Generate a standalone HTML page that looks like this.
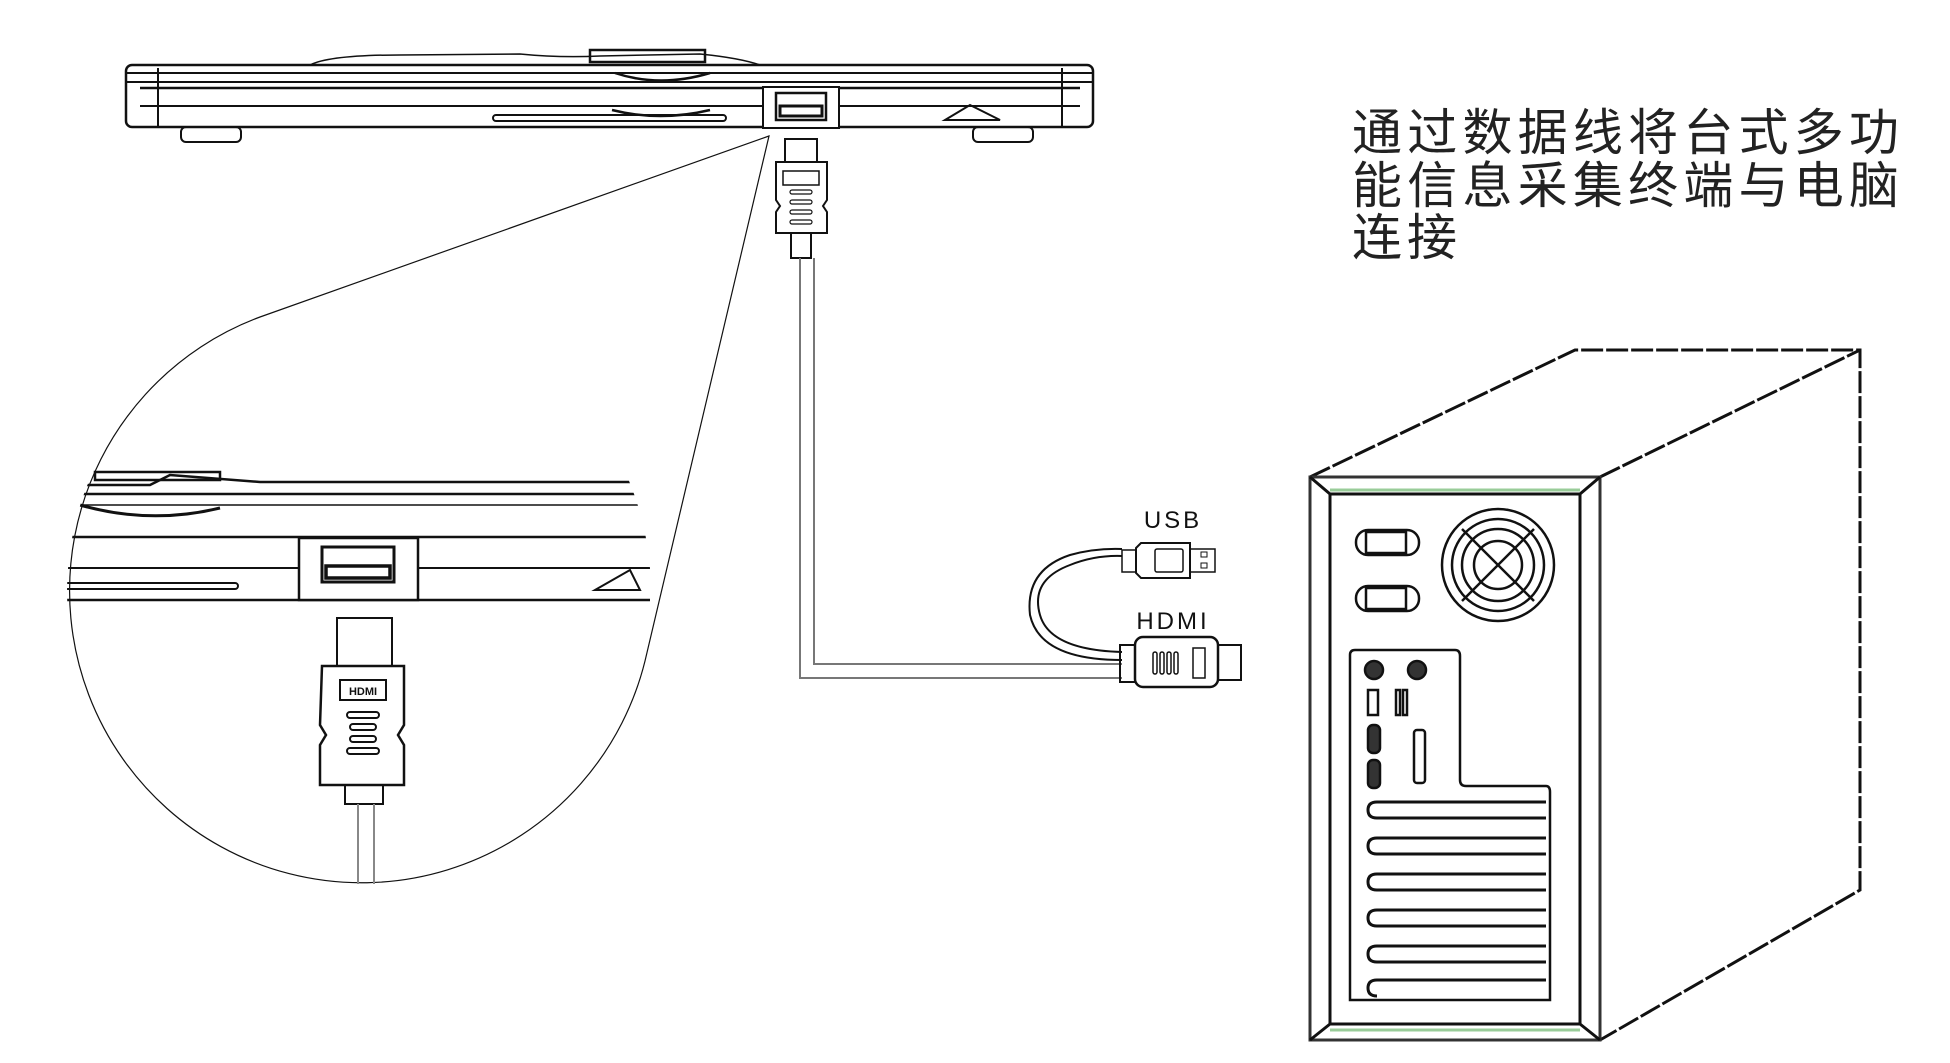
<!DOCTYPE html>
<html><head><meta charset="utf-8"><style>
html,body{margin:0;padding:0;background:#fff;width:1950px;height:1063px;overflow:hidden}
svg{display:block}
.t{font-family:"Liberation Sans","Noto Sans CJK SC",sans-serif;font-size:50px;letter-spacing:5px;fill:#222}
</style></head><body>
<svg width="1950" height="1063" viewBox="0 0 1950 1063" xmlns="http://www.w3.org/2000/svg" fill="none" stroke="#111" stroke-width="2">
<defs><clipPath id="cc"><circle cx="359" cy="592" r="292"/></clipPath></defs>
<path d="M310 65 Q330 55 400 55 L520 54 Q560 58 600 56 L700 54 Q740 58 760 65" stroke-width="1.5"/>
<rect x="590" y="50" width="115" height="12" stroke-width="2.5"/>
<path d="M615 73 Q660 88 710 73 M612 110 Q660 122 710 110" stroke-width="2.5"/>
<rect x="126" y="65" width="967" height="62" rx="6" stroke-width="2.5"/>
<line x1="126" y1="73" x2="1093" y2="73"/><line x1="126" y1="82" x2="1093" y2="82"/>
<line x1="140" y1="88" x2="1080" y2="88" stroke-width="2.5"/><line x1="140" y1="106" x2="1080" y2="106" stroke-width="2"/>
<line x1="158" y1="68" x2="158" y2="127"/><line x1="1062" y1="68" x2="1062" y2="127"/>
<rect x="493" y="115" width="233" height="6" rx="3"/>
<rect x="763" y="87" width="76" height="41" fill="#fff" stroke-width="2"/>
<rect x="776" y="93" width="50" height="27" stroke-width="2.5"/><rect x="780" y="106" width="42" height="10" stroke-width="3"/>
<path d="M945 120 L970 105 L1000 120 Z"/>
<rect x="181" y="127" width="60" height="15" rx="5"/><rect x="973" y="127" width="60" height="15" rx="5"/>
<path d="M769 136 L260 317 A292 292 0 1 0 645 661 Z" stroke-width="1.2"/>
<g clip-path="url(#cc)">
<path d="M60 485 L150 485 L170 475 L260 482 L650 482" stroke-width="2.5"/>
<rect x="95" y="472" width="125" height="8" stroke-width="2.5"/>
<line x1="60" y1="494" x2="650" y2="494" stroke-width="2.5"/>
<line x1="60" y1="505" x2="650" y2="505" stroke-width="1.5"/>
<line x1="60" y1="537" x2="650" y2="537" stroke-width="2.5"/>
<line x1="60" y1="568" x2="650" y2="568" stroke-width="2"/>
<line x1="60" y1="600" x2="650" y2="600" stroke-width="2.5"/>
<path d="M80 505 Q150 525 220 508" stroke-width="3"/>
<rect x="60" y="583" width="178" height="6" rx="3"/>
<rect x="299" y="538" width="119" height="62" fill="#fff" stroke-width="2.5"/>
<rect x="322" y="547" width="72" height="35" stroke-width="3"/><rect x="326" y="566" width="64" height="12" stroke-width="3.5"/>
<path d="M595 590 L630 570 L640 590 Z"/>
</g>
<rect x="337" y="618" width="55" height="48"/>
<path d="M322 666 L404 666 L404 725 L398 735 L404 745 L404 785 L320 785 L320 745 L326 735 L320 725 Z" stroke-width="2.5"/>
<rect x="340" y="680" width="46" height="20" stroke-width="2"/>
<text x="363" y="695" font-family="Liberation Sans" font-size="11" font-weight="bold" fill="#111" stroke="none" text-anchor="middle">HDMI</text>
<rect x="347" y="712" width="32" height="6" rx="3"/><rect x="350" y="724" width="26" height="6" rx="3"/><rect x="350" y="736" width="26" height="6" rx="3"/><rect x="347" y="748" width="32" height="6" rx="3"/>
<rect x="345" y="785" width="38" height="19"/>
<line x1="358" y1="804" x2="358" y2="884" stroke="#888"/><line x1="374" y1="804" x2="374" y2="884" stroke="#888"/>
<rect x="785" y="139" width="32" height="23"/>
<path d="M776 162 L827 162 L827 200 L823 206 L827 212 L827 233 L776 233 L776 212 L780 206 L776 200 Z" stroke-width="2"/>
<rect x="783" y="171" width="36" height="14" stroke-width="1.5"/>
<rect x="790" y="190" width="22" height="4" rx="2" stroke-width="1.2"/><rect x="790" y="200" width="22" height="4" rx="2" stroke-width="1.2"/><rect x="790" y="210" width="22" height="4" rx="2" stroke-width="1.2"/><rect x="790" y="220" width="22" height="4" rx="2" stroke-width="1.2"/>
<rect x="791" y="233" width="20" height="25"/>
<path d="M800 258 L800 678 L1122 678" stroke="#777" stroke-width="2"/>
<path d="M814 258 L814 664 L1122 664" stroke="#777" stroke-width="2"/>
<path d="M1122 652 Q1050 650 1040 615 Q1030 580 1070 565 Q1095 555 1122 556" stroke-width="2"/>
<path d="M1122 660 Q1040 660 1030 615 Q1025 570 1070 555 Q1095 548 1122 549" stroke-width="2"/>
<text x="1173" y="528" font-family="Liberation Sans" font-size="24" letter-spacing="3" fill="#111" stroke="none" text-anchor="middle">USB</text>
<rect x="1122" y="550" width="14" height="22" stroke-width="1.5"/>
<path d="M1136 548 L1141 543 L1190 543 L1190 578 L1141 578 L1136 573 Z" stroke-width="2"/>
<rect x="1155" y="549" width="28" height="23" rx="2" stroke-width="1.5"/>
<rect x="1190" y="549" width="25" height="23" stroke-width="1.5"/>
<rect x="1201" y="552" width="6" height="5" stroke-width="1"/><rect x="1201" y="563" width="6" height="5" stroke-width="1"/>
<text x="1173" y="629" font-family="Liberation Sans" font-size="24" letter-spacing="3" fill="#111" stroke="none" text-anchor="middle">HDMI</text>
<rect x="1120" y="645" width="15" height="37" stroke-width="2"/>
<rect x="1135" y="637" width="83" height="50" rx="8" stroke-width="2.5"/>
<rect x="1218" y="645" width="23" height="35" stroke-width="2"/>
<rect x="1193" y="648" width="12" height="30" stroke-width="1.5"/>
<g stroke-width="1.5"><rect x="1153" y="652" width="4" height="22" rx="2"/><rect x="1160" y="652" width="4" height="22" rx="2"/><rect x="1167" y="652" width="4" height="22" rx="2"/><rect x="1174" y="652" width="4" height="22" rx="2"/></g>
<text class="t" x="1352" y="150" stroke="none" textLength="552">通过数据线将台式多功</text>
<text class="t" x="1352" y="203" stroke="none" textLength="552">能信息采集终端与电脑</text>
<text class="t" x="1352" y="255" stroke="none">连接</text>
<g stroke-width="3">
<path d="M1310 477 L1575 350 L1860 350 L1860 890 L1600 1040" stroke-dasharray="22 3"/>
<line x1="1600" y1="477" x2="1860" y2="350" stroke-dasharray="22 3"/>
<rect x="1310" y="477" width="290" height="563" stroke="#333"/>
<rect x="1330" y="494" width="250" height="530"/>
<line x1="1310" y1="477" x2="1330" y2="494"/><line x1="1600" y1="477" x2="1580" y2="494"/>
<line x1="1310" y1="1040" x2="1330" y2="1024"/><line x1="1600" y1="1040" x2="1580" y2="1024"/>
<line x1="1330" y1="490" x2="1580" y2="490" stroke="#9c9" stroke-width="3"/>
<line x1="1330" y1="1030" x2="1580" y2="1030" stroke="#9c9" stroke-width="3"/>
</g>
<g stroke-width="2.5">
<rect x="1356" y="530" width="63" height="25" rx="12"/><rect x="1366" y="532" width="40" height="21"/>
<rect x="1356" y="586" width="63" height="25" rx="12"/><rect x="1366" y="588" width="40" height="21"/>
<circle cx="1498" cy="565" r="56"/><circle cx="1498" cy="565" r="46"/><circle cx="1498" cy="565" r="36"/><circle cx="1498" cy="565" r="24"/>
<line x1="1462" y1="529" x2="1534" y2="601"/><line x1="1534" y1="529" x2="1462" y2="601"/>
<path d="M1355 650 L1455 650 Q1460 650 1460 656 L1460 780 Q1460 786 1466 786 L1546 786 Q1550 786 1550 792 L1550 1000 L1350 1000 L1350 655 Q1350 650 1355 650 Z"/>
<circle cx="1374" cy="670" r="9" fill="#333"/><circle cx="1417" cy="670" r="9" fill="#333"/>
<rect x="1368" y="690" width="10" height="25"/><rect x="1396" y="690" width="4" height="25"/><rect x="1403" y="690" width="4" height="25"/>
<rect x="1368" y="725" width="12" height="28" rx="5" fill="#333"/><rect x="1368" y="760" width="12" height="28" rx="5" fill="#333"/>
<rect x="1414" y="730" width="11" height="53" rx="3"/>
<g stroke-width="3">
<path d="M1546 802 L1377 802 Q1368 802 1368 810 Q1368 818 1377 818 L1546 818"/>
<path d="M1546 838 L1377 838 Q1368 838 1368 846 Q1368 854 1377 854 L1546 854"/>
<path d="M1546 874 L1377 874 Q1368 874 1368 882 Q1368 890 1377 890 L1546 890"/>
<path d="M1546 910 L1377 910 Q1368 910 1368 918 Q1368 926 1377 926 L1546 926"/>
<path d="M1546 946 L1377 946 Q1368 946 1368 954 Q1368 962 1377 962 L1546 962"/>
<path d="M1546 980 L1377 980 Q1368 980 1368 988 Q1368 996 1377 996"/>
</g>
</g>
</svg>
</body></html>
